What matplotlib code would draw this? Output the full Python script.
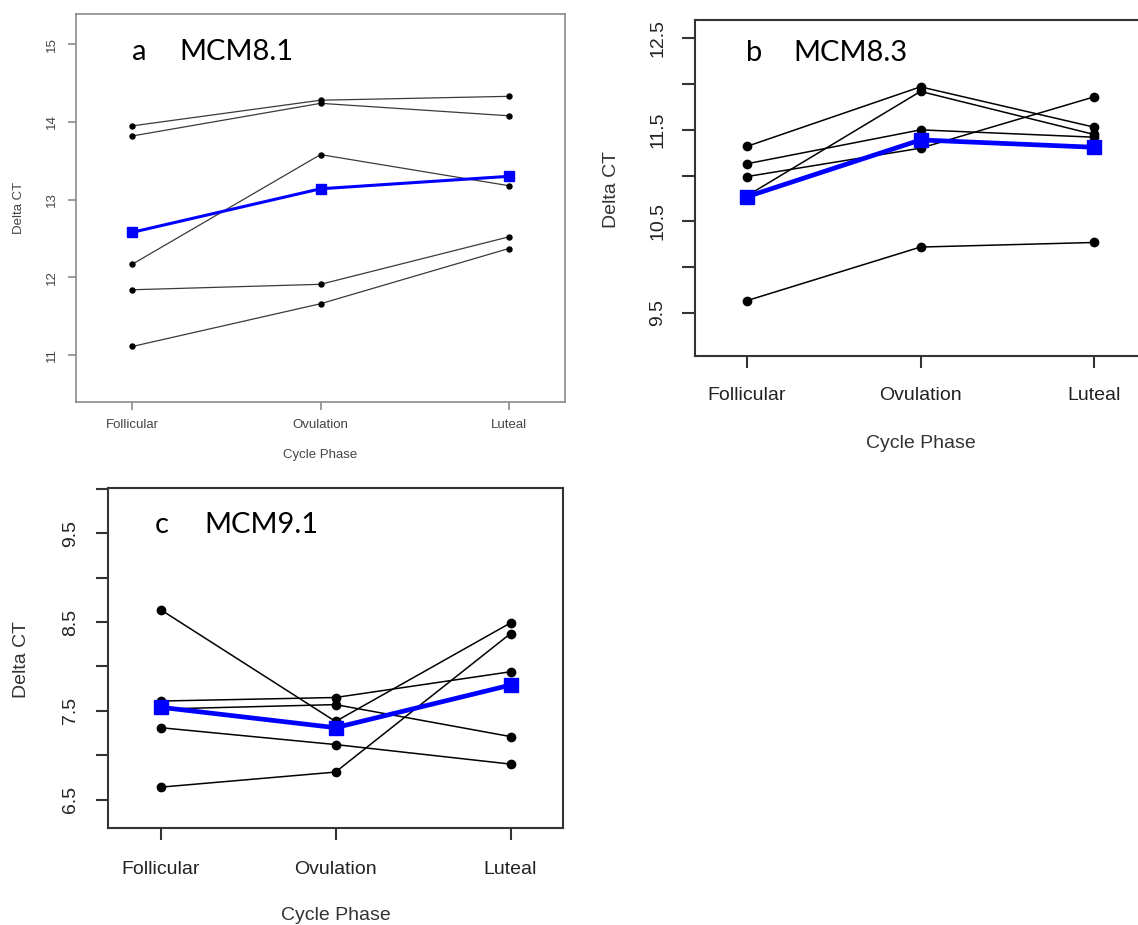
import matplotlib
matplotlib.use("Agg")
import matplotlib.pyplot as plt
from matplotlib.ticker import FixedLocator

W, H = 1138, 925

phases = ["Follicular", "Ovulation", "Luteal"]

# Panel a: MCM8.1
a_samples = [
    [13.95, 14.28, 14.33],
    [13.82, 14.24, 14.08],
    [12.17, 13.58, 13.18],
    [11.84, 11.91, 12.52],
    [11.11, 11.66, 12.37],
]
a_mean = [12.58, 13.14, 13.30]
a_yticks = [11, 12, 13, 14, 15]
a_ylabels = ["11", "12", "13", "14", "15"]

# Panel b: MCM8.3
b_samples = [
    [11.32, 11.97, 11.53],
    [10.78, 11.92, 11.45],
    [11.13, 11.50, 11.42],
    [10.99, 11.30, 11.86],
    [9.635, 10.22, 10.27],
]
b_mean = [10.77, 11.39, 11.31]
b_yticks = [9.5, 10.0, 10.5, 11.0, 11.5, 12.0, 12.5]
b_ylabels = ["9.5", "", "10.5", "", "11.5", "", "12.5"]

# Panel c: MCM9.1
c_samples = [
    [8.64, 7.38, 8.49],
    [7.61, 7.65, 7.94],
    [7.52, 7.57, 7.21],
    [7.31, 7.12, 6.90],
    [6.64, 6.81, 8.37],
]
c_mean = [7.54, 7.31, 7.79]
c_yticks = [6.5, 7.0, 7.5, 8.0, 8.5, 9.0, 9.5, 10.0]
c_ylabels = ["6.5", "", "7.5", "", "8.5", "", "9.5", ""]

xlabel = "Cycle Phase"
ylabel = "Delta CT"

plt.rcParams["font.family"] = ["Liberation Sans", "DejaVu Sans"]

fig = plt.figure(figsize=(W / 100, H / 100), dpi=100)
fig.patch.set_facecolor("white")


def px2pt(p):
    return p * 72 / 100.0


def rect(l, t, r, b):
    return [l / W, 1 - b / H, (r - l) / W, (b - t) / H]


def fx(x):
    return x / W


def fy(y):
    return 1 - y / H


def panel(box, samples, mean, ylim, yticks, ylabels, letter, name,
          letter_xy, name_x, fs, spine_col, spine_lw, line_col, line_lw,
          dot_ms, blue_lw, sq_ms, xtick_len, ytick_len, xpad, ypad, txt_col):
    ax = fig.add_axes(rect(*box))
    x = [1, 2, 3]
    for s in samples:
        ax.plot(x, s, color=line_col, lw=line_lw, marker="o", ms=dot_ms,
                mfc="black", mec="black", zorder=2)
    ax.plot(x, mean, color="#0000ff", lw=blue_lw, marker="s", ms=sq_ms,
            mfc="#0000ff", mec="#0000ff", zorder=3)
    ax.set_xlim(0.7, 3.3)
    ax.set_ylim(*ylim)
    ax.xaxis.set_major_locator(FixedLocator(x))
    ax.set_xticklabels(phases)
    ax.yaxis.set_major_locator(FixedLocator(yticks))
    ax.set_yticklabels(ylabels)
    for sp in ax.spines.values():
        sp.set_color(spine_col)
        sp.set_linewidth(spine_lw)
    ax.tick_params(axis="x", length=px2pt(xtick_len), width=spine_lw,
                   color=spine_col, labelsize=fs, labelcolor=txt_col,
                   pad=px2pt(xpad))
    ax.tick_params(axis="y", length=px2pt(ytick_len), width=spine_lw,
                   color=spine_col, labelsize=fs, labelcolor=txt_col,
                   pad=px2pt(ypad))
    for lab in ax.get_xticklabels():
        lab.set_va("center")
    for lab in ax.get_yticklabels():
        lab.set_rotation(90)
        lab.set_ha("center")
        lab.set_va("center")
    fig.text(fx(letter_xy[0]), fy(letter_xy[1]), letter, fontsize=21,
             family=["Lato", "DejaVu Sans"], ha="left", va="center",
             color="black")
    fig.text(fx(name_x), fy(letter_xy[1]), name, fontsize=21,
             family=["Lato", "DejaVu Sans"], ha="left", va="center",
             color="black")
    return ax


# panel a
axa = panel((76, 14, 565, 402), a_samples, a_mean, (10.395, 15.39),
            a_yticks, a_ylabels, "a", "MCM8.1", (132, 52), 179,
            9.5, "#8a8a8a", 1.2, "#3a3a3a", 0.9, 3.6, 2.2, 7.5,
            8, 8, 15, 16, "#444444")
fig.text(fx(320.5), fy(455), xlabel, fontsize=9.5, ha="center", va="center",
         color="#444444")
fig.text(fx(19), fy(208), ylabel, fontsize=9.5, ha="center", va="center",
         rotation=90, color="#444444")

# panel b
axb = panel((695, 20, 1146, 356), b_samples, b_mean, (9.03, 12.70),
            b_yticks, b_ylabels, "b", "MCM8.3", (746, 53), 793,
            14, "#333333", 1.5, "black", 1.1, 6.0, 3.4, 9.8,
            12, 13, 27, 24, "#222222")
fig.text(fx(920.5), fy(443), xlabel, fontsize=14, ha="center", va="center",
         color="#333333")
fig.text(fx(611), fy(190), ylabel, fontsize=14, ha="center", va="center",
         rotation=90, color="#333333")

# panel c
axc = panel((108, 488, 563, 828), c_samples, c_mean, (6.18, 10.01),
            c_yticks, c_ylabels, "c", "MCM9.1", (155, 525), 204,
            14, "#333333", 1.5, "black", 1.1, 6.0, 3.4, 10.0,
            12, 12, 29, 25, "#222222")
fig.text(fx(336), fy(915), xlabel, fontsize=14, ha="center", va="center",
         color="#333333")
fig.text(fx(22), fy(660), ylabel, fontsize=14, ha="center", va="center",
         rotation=90, color="#333333")

fig.savefig("out.png", dpi=100, facecolor="white")
